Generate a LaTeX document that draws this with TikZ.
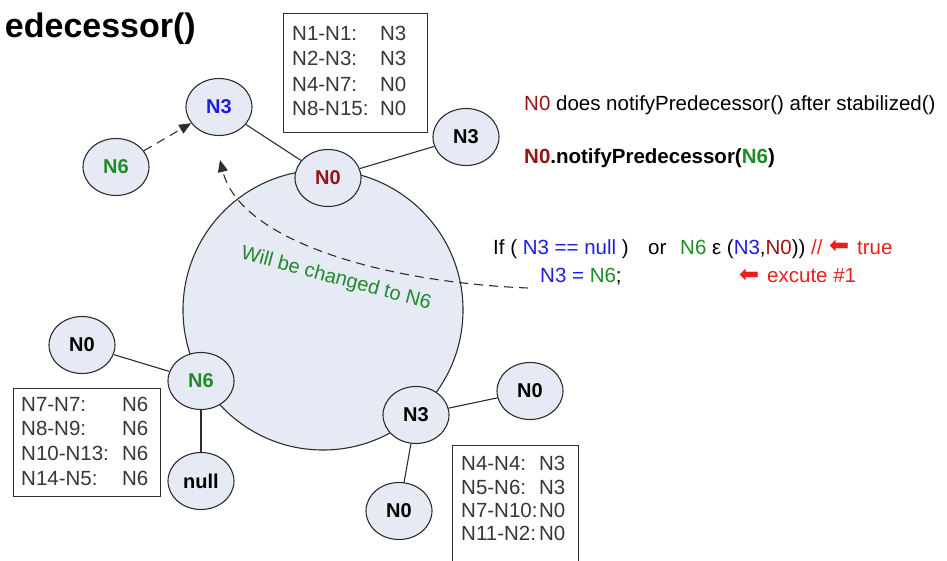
\documentclass[tikz,border=0pt]{standalone}
\usepackage{fontspec}
\setmainfont{Liberation Sans}
\newfontfamily\symfont{DejaVu Sans}
\usetikzlibrary{shapes.geometric,arrows.meta}
\definecolor{nfill}{RGB}{229,234,244}
\definecolor{lcol}{RGB}{45,45,45}
\definecolor{cblue}{RGB}{30,30,225}
\definecolor{cgreen}{RGB}{30,140,40}
\definecolor{cdred}{RGB}{150,20,20}
\definecolor{cred}{RGB}{235,30,30}
\definecolor{tgrey}{RGB}{55,55,55}
\newcommand{\redarrow}{{\symfont\fontsize{24}{28}\selectfont\textcolor{cred}{⬅}}}
\begin{document}
\begin{tikzpicture}[x=1pt,y=-1pt,
  ring/.style={ellipse, draw=lcol, line width=1.1pt, fill=nfill, minimum width=66pt, minimum height=57pt, inner sep=0pt, font=\fontsize{20}{24}\selectfont\bfseries},
  link/.style={draw=lcol, line width=1.1pt},
  dlink/.style={link, dash pattern=on 9pt off 6pt},
  tbox/.style={draw=lcol, line width=1.1pt, fill=white, inner sep=0pt, anchor=north west},
  row/.style={anchor=base west, inner sep=0pt, text=tgrey, font=\fontsize{20.5}{25}\selectfont},
  txt/.style={anchor=base west, inner sep=0pt, font=\fontsize{20.5}{25}\selectfont}]
\path[use as bounding box] (0,0) rectangle (947,561);

% title
\node[anchor=base east, inner sep=0pt, font=\fontsize{34}{40}\selectfont\bfseries] (title) at (196,38) {edecessor()};

% ring
\draw[lcol, line width=1.1pt, fill=nfill] (323,310) circle[radius=140pt];

% boxes
\node[tbox, minimum width=144pt, minimum height=119pt] (tb) at (283,13) {};
\node[row] (tb1) at (292,40.5) {\makebox[88pt][l]{N1-N1:}N3};
\node[row] (tb2) at (292,66)   {\makebox[88pt][l]{N2-N3:}N3};
\node[row] (tb3) at (292,92)   {\makebox[88pt][l]{N4-N7:}N0};
\node[row] (tb4) at (292,115.5){\makebox[88pt][l]{N8-N15:}N0};

\node[tbox, minimum width=147pt, minimum height=108pt] (lb) at (13,388) {};
\node[row] (lb1) at (21,411.5) {\makebox[101pt][l]{N7-N7:}N6};
\node[row] (lb2) at (21,435.5) {\makebox[101pt][l]{N8-N9:}N6};
\node[row] (lb3) at (21,460.5) {\makebox[101pt][l]{N10-N13:}N6};
\node[row] (lb4) at (21,485)   {\makebox[101pt][l]{N14-N5:}N6};

\node[tbox, minimum width=126pt, minimum height=130pt] (rb) at (452,445) {};
\node[row] (rb1) at (461,470.5) {\makebox[78pt][l]{N4-N4:}N3};
\node[row] (rb2) at (461,494.5) {\makebox[78pt][l]{N5-N6:}N3};
\node[row] (rb3) at (461,517.5) {\makebox[78pt][l]{N7-N10:}N0};
\node[row] (rb4) at (461,540)   {\makebox[78pt][l]{N11-N2:}N0};

% nodes
\node[ring, text=cblue] (n3t) at (219,107) {N3};
\node[ring, text=cgreen] (n6t) at (116,167) {N6};
\node[ring, text=cdred] (n0t) at (328,178) {N0};
\node[ring] (n3r) at (466,137) {N3};
\node[ring] (n0l) at (82,345) {N0};
\node[ring, text=cgreen] (n6) at (201,381) {N6};
\node[ring] (nul) at (201,481) {null};
\node[ring] (n3b) at (416,415) {N3};
\node[ring] (n0r) at (530,391) {N0};
\node[ring] (n0b) at (399,511) {N0};

% links
\draw[link] (n3t) -- (n0t);
\draw[link] (n0t) -- (n3r);
\draw[link] (n6) -- (n0l);
\draw[link] (n6) -- (nul);
\draw[link] (n3b) -- (n0r);
\draw[link] (n3b) -- (n0b);
\draw[dlink, -{Triangle[length=12pt,width=10pt]}] (n6t) -- (n3t);

% dashed curve
\coordinate (cstart) at (528,288);
\coordinate (cend) at (220,160);
\draw[dlink, -{Triangle[length=12pt,width=10pt]}] (cstart) .. controls (380,282) and (240,240) .. (cend);
\node[inner sep=0pt, rotate=-15, text=cgreen, font=\fontsize{20}{24}\selectfont] (will) at (336,279) {Will be changed to N6};

% right texts
\node[txt] (t1) at (524,111) {\textcolor{cdred}{N0} does notifyPredecessor() after stabilized()};
\node[txt, font=\fontsize{20.5}{25}\selectfont\bfseries] (t2) at (524,164) {\textcolor{cdred}{N0}.notifyPredecessor(\textcolor{cgreen}{N6})};

\node[txt] (c1) at (493,254.5) {If ( \textcolor{cblue}{N3 == null} )};
\node[txt] (c2) at (648,254.5) {or};
\node[txt] (c3) at (680,254.5) {\textcolor{cgreen}{N6} ε (\textcolor{cblue}{N3},\textcolor{cdred}{N0})) \textcolor{cred}{//}};
\node[txt] (c4) at (829,254) {\redarrow};
\node[txt, text=cred] (c5) at (857,254.5) {true};

\node[txt] (d1) at (540,283) {\textcolor{cblue}{N3 =} \textcolor{cgreen}{N6};};
\node[txt] (d2) at (739,282.5) {\redarrow};
\node[txt, text=cred] (d3) at (767,283) {excute \#1};
\end{tikzpicture}
\end{document}
